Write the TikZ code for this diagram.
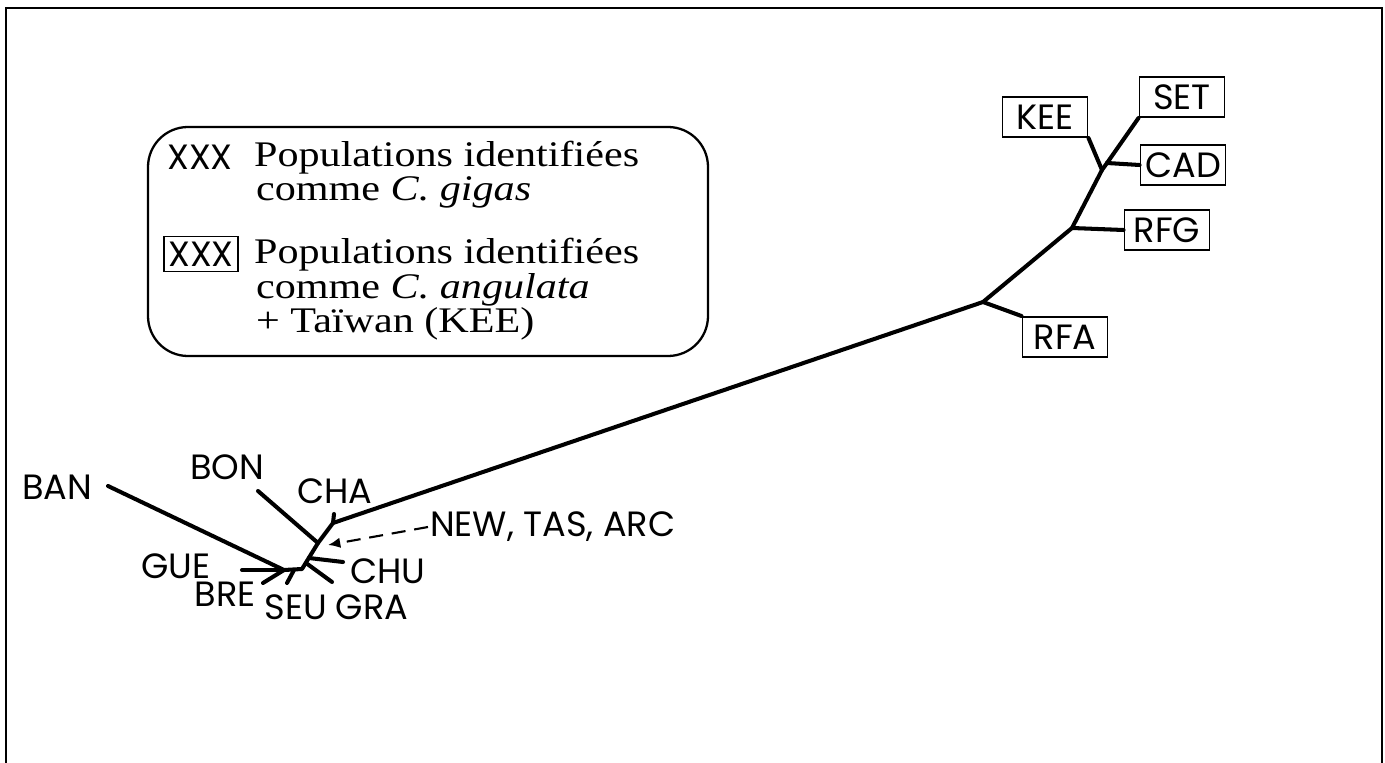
\documentclass[tikz,border=0pt]{standalone}
\usepackage{fontspec}
\setmainfont[FakeStretch=1.17]{Liberation Serif}
\newfontfamily\labfont{Poppins}
\usetikzlibrary{arrows.meta,positioning}

\begin{document}
\begin{tikzpicture}[x=0.02cm,y=-0.02cm,>=Latex,
  every node/.style={inner sep=1pt},
  lab/.style={font=\labfont\fontsize{20}{20}\selectfont},
  boxlab/.style={lab,draw,line width=1.1pt,minimum width=1.7cm,minimum height=0.8cm},
  leg/.style={font=\fontsize{20.5}{20.5}\selectfont,anchor=base west},
  branch/.style={line width=2.3pt,line cap=round,line join=round}]
  \useasboundingbox (0,0) rectangle (1385,763);
  % frame, open at the bottom
  \draw[line width=1.6pt] (6,763) -- (6,8) -- (1382,8) -- (1382,763);

  % legend
  \draw[line width=1.3pt,rounded corners=0.8cm] (148,127) rectangle (708,356);
  \node[lab] (xxx) at (200,157) {XXX};
  \node[leg] (pop1) at (252,167) {Populations identifiées};
  \node[leg] (com1) at (254,201) {comme \textit{C. gigas}};
  \node[lab,draw,line width=1.1pt,minimum width=1.48cm,minimum height=0.7cm]
    (xxxbox) at (201,254) {XXX};
  \node[leg] (pop2) at (252,264) {Populations identifiées};
  \node[leg] (com2) at (254,298) {comme \textit{C. angulata}};
  \node[leg] (tai) at (254,333) {+ Taïwan (KEE)};

  % left cluster (C. gigas)
  \node[lab] (ban) at (57,487) {BAN};
  \node[lab] (bon) at (227,467) {BON};
  \node[lab] (cha) at (335,491) {CHA};
  \node[lab,anchor=west] (new) at (428,527) {NEW, TAS, ARC};
  \node[lab,anchor=west] (chu) at (348,571) {CHU};
  \node[lab] (gue) at (176,566) {GUE};
  \node[lab] (bre) at (225,594) {BRE};
  \node[lab] (seu) at (296,607) {SEU};
  \node[lab] (gra) at (372,607) {GRA};

  % right cluster (C. angulata)
  \node[boxlab] (kee) at (1045,117) {KEE};
  \node[boxlab] (set) at (1182,97) {SET};
  \node[boxlab] (cad) at (1183,165) {CAD};
  \node[boxlab] (rfg) at (1167,230) {RFG};
  \node[boxlab] (rfa) at (1065,337) {RFA};

  % inner nodes
  \coordinate (j0) at (284,570);
  \coordinate (jseu) at (294,570);
  \coordinate (j1) at (302,569);
  \coordinate (jgra) at (306,563);
  \coordinate (jchu) at (309,558);
  \coordinate (j2) at (318,543);
  \coordinate (j3) at (333,523);
  \coordinate (r1) at (983,302);
  \coordinate (r2) at (1072,228);
  \coordinate (r3) at (1102,170);
  \coordinate (r4) at (1107,163);

  % branch tips
  \coordinate (bantip) at (108,486);
  \coordinate (bontip) at (258,491);
  \coordinate (chatip) at (334,514);
  \coordinate (guetip) at (242,570);
  \coordinate (bretip) at (263,583);
  \coordinate (seutip) at (287,583);
  \coordinate (chutip) at (343,562);
  \coordinate (gratip) at (332,582);
  \coordinate (newarr) at (328,545);

  \draw[branch] (bantip) -- (j0) -- (j1) -- (j2) -- (j3) -- (r1) -- (r2) -- (r3) -- (r4);
  \draw[branch] (guetip) -- (j0);
  \draw[branch] (bretip) -- (j0);
  \draw[branch] (seutip) -- (jseu);
  \draw[branch] (gratip) -- (jgra);
  \draw[branch] (chutip) -- (jchu);
  \draw[branch] (bontip) -- (j2);
  \draw[branch] (chatip) -- (j3);
  \draw[branch] (r1) -- (rfa.north west);
  \draw[branch] (r2) -- (rfg.west);
  \draw[branch] (r3) -- (kee.south east);
  \draw[branch] (r4) -- (set.south west);
  \draw[branch] (r4) -- (cad.west);
  \draw[line width=1.2pt,dash pattern=on 8pt off 5pt,-{Latex[length=7pt,width=6pt]}]
    (new.west) -- (newarr);
\end{tikzpicture}
\end{document}
